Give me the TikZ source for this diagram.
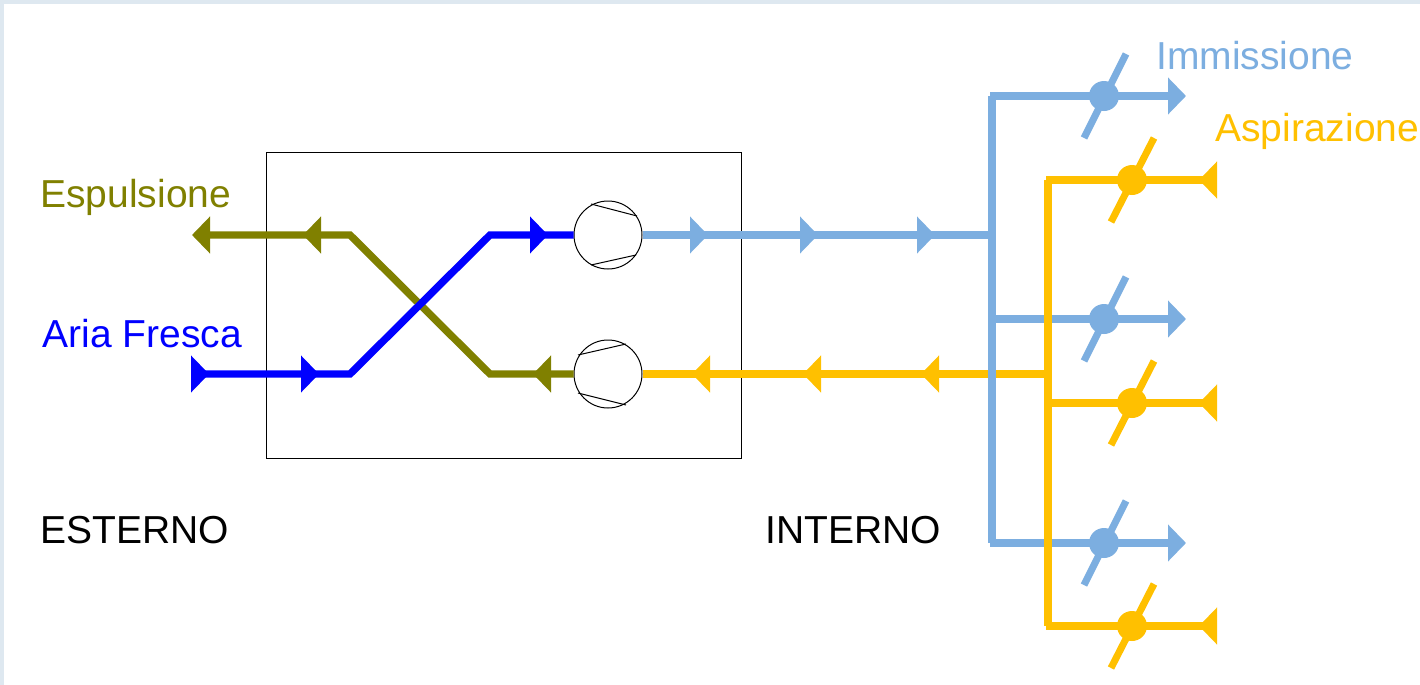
\documentclass[tikz,border=0pt]{standalone}
\usepackage{fontspec}
\setmainfont{Liberation Sans}
\usepackage{xcolor}
\usetikzlibrary{arrows.meta, positioning}
\definecolor{olivo}{HTML}{808000}
\definecolor{celeste}{HTML}{7CAEE0}
\definecolor{arancio}{HTML}{FFC000}
\definecolor{fondo}{HTML}{DEE8F0}
\tikzstyle{impianto}=[x=0.5pt, y=-0.5pt, >={Triangle[length=9pt,width=18pt]}]
\tikzstyle{duct}=[line width=3.7pt, line join=miter]
\tikzstyle{slash}=[line width=3.5pt]
\tikzstyle{fan}=[circle, draw, line width=0.5pt, minimum size=34pt, inner sep=0pt]
\tikzstyle{valve}=[circle, minimum size=15pt, inner sep=0pt]
\tikzstyle{label}=[anchor=base west, inner sep=0pt, font=\fontsize{19.5pt}{19.5pt}\selectfont]

\begin{document}
\begin{tikzpicture}[impianto]
            \useasboundingbox (0,0) rectangle (1420,685);
            \fill[fondo] (0,0) rectangle (1420,685);
            \fill[white] (4,4) rectangle (1420,685);

            \node[draw, line width=0.5pt, minimum width=237.5pt, minimum height=153pt, inner sep=0pt] (box) at (503.5,305) {};
            \node[fan] (fan1) at (608,235) {};
            \node[fan] (fan2) at (608,374) {};

            % espulsione
            \coordinate (e0) at (210,235);
            \draw[duct, olivo] (fan2) -- (490,374) -- (350,235) -- (e0);
            \foreach \x/\p in {210/192, 319/303} \draw[duct, olivo, ->] (\x,235) -- (\p,235);
            \draw[duct, olivo, ->] (549,374) -- (533,374);

            % aria fresca
            \coordinate (a0) at (200,374);
            \draw[duct, blue] (a0) -- (350,374) -- (490,235) -- (fan1);
            \foreach \x in {192, 302} \draw[duct, blue, ->] (\x,374) -- ++(17,0);
            \draw[duct, blue, ->] (531,235) -- (548,235);

            % aspirazione
            \coordinate (r0) at (1048,374);
            \draw[duct, arancio] (r0) -- (fan2);
            \foreach \x in {692, 803, 921} \draw[duct, arancio, ->] (\x+17,374) -- (\x,374);

            % immissione
            \coordinate (i0) at (992,235);
            \coordinate (it) at (992,96);
            \coordinate (ib) at (992,543);
            \draw[duct, celeste] (fan1) -- (i0);
            \foreach \x in {691, 801, 918} \draw[duct, celeste, ->] (\x,235) -- ++(17,0);
            \draw[duct, celeste, line width=4pt] (it) -- (ib);

            % bocchette
            \foreach \n/\y in {1/96, 2/319, 3/543} {
              \coordinate (it\n) at (990,\y);
              \coordinate (ie\n) at (1170,\y);
              \node[valve, fill=celeste] (iv\n) at (1104,\y) {};
              \draw[duct, celeste] (it\n) -- (ie\n);
              \draw[duct, celeste, ->] (1168,\y) -- (1186,\y);
              \draw[slash, celeste] ([shift={(-20,42)}]iv\n.center) -- ([shift={(22,-42)}]iv\n.center);
            }

            \coordinate (rt) at (1048,180);
            \coordinate (rb) at (1048,626);
            \draw[duct, arancio] (rt) -- (rb);
            \foreach \n/\y in {1/180, 2/403, 3/626} {
              \coordinate (rt\n) at (1046,\y);
              \coordinate (re\n) at (1206,\y);
              \node[valve, fill=arancio] (rv\n) at (1132,\y) {};
              \draw[duct, arancio] (rt\n) -- (re\n);
              \draw[duct, arancio, ->] (1216,\y) -- (1199,\y);
              \draw[slash, arancio] ([shift={(-21,42)}]rv\n.center) -- ([shift={(22,-42)}]rv\n.center);
            }

            % pale
            \draw[line width=0.5pt] (591,204) -- (637,216) (591,265) -- (636,255);
            \draw[line width=0.5pt] (578,355) -- (626,344) (578,393) -- (626,405);

            \node[label, text=olivo]   (espulsione)  at (40,207)   {Espulsione};
            \node[label, text=blue]    (aria)        at (42,347)   {Aria Fresca};
            \node[label, text=celeste] (immissione)  at (1156,69)  {Immissione};
            \node[label, text=arancio] (aspirazione) at (1215,141) {Aspirazione};
            \node[label]               (esterno)     at (40,543)   {ESTERNO};
            \node[label]               (interno)     at (765,543)  {INTERNO};
          \end{tikzpicture}
\end{document}
